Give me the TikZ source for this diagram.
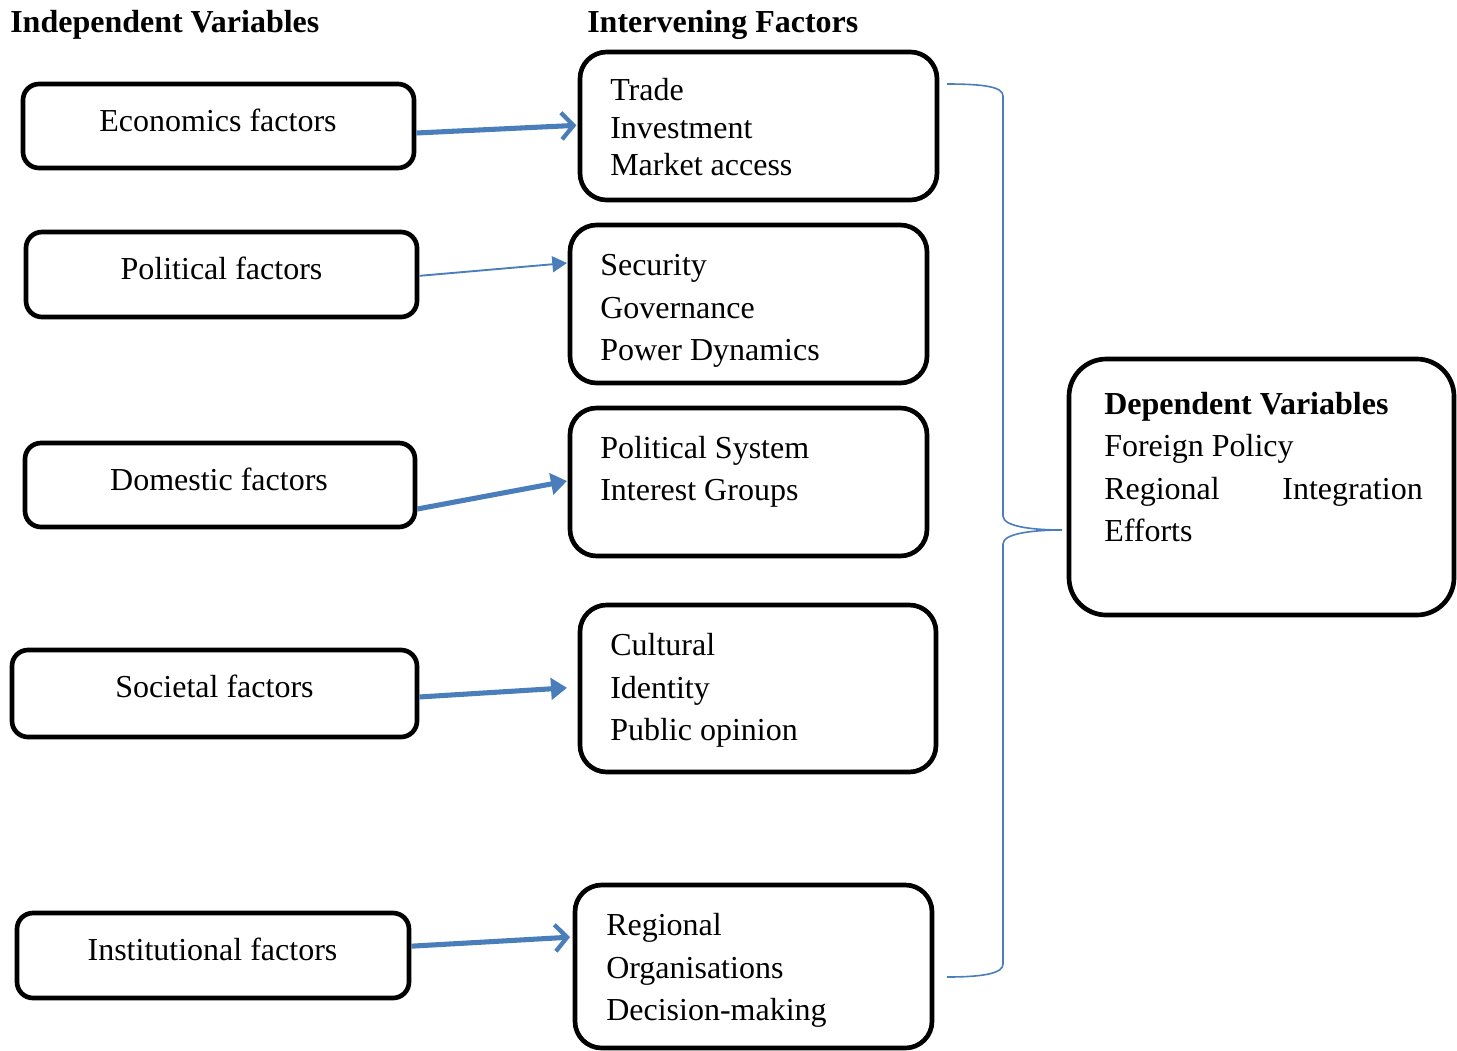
\documentclass[tikz,border=0pt]{standalone}
\usepackage{fontspec}
\setmainfont{Liberation Serif}
\usetikzlibrary{arrows.meta,fit}
\definecolor{arrowblue}{RGB}{74,126,187}
\begin{document}
\begin{tikzpicture}[x=0.75pt,y=-0.75pt,
  every node/.style={font=\fontsize{24pt}{28pt}\selectfont},
  boxsmall/.style={draw=black,line width=3.5pt,rounded corners=12pt,inner sep=0pt},
  boxmid/.style={draw=black,line width=3.5pt,rounded corners=20pt,inner sep=0pt},
  boxbig/.style={draw=black,line width=3.5pt,rounded corners=28pt,inner sep=0pt},
  txt/.style={inner sep=0pt,anchor=base west},
  ctxt/.style={inner sep=0pt,anchor=base},
  head/.style={inner sep=0pt,anchor=base west,font=\fontsize{24pt}{28pt}\selectfont\bfseries},
  thickarrow/.style={draw=arrowblue,line width=3.8pt},
  openhead/.style={-{Straight Barb[length=9pt,width=20pt,line width=3.2pt]}},
  fillhead/.style={-{Triangle[length=12pt,width=16pt]}},
  bracestyle/.style={draw=arrowblue,line width=1.2pt}
]
\useasboundingbox (0,0) rectangle (1457,1050);

% headings
\node[head] (h1) at (10,32) {Independent Variables};
\node[head] (h2) at (587,32) {Intervening Factors};

% left boxes
\node[boxsmall,fit={(23,84) (414,168)}] (econ) {};
\node[ctxt] (econt) at (218,131) {Economics factors};
\node[boxsmall,fit={(26,232) (417,317)}] (pol) {};
\node[ctxt] (polt) at (221.5,279) {Political factors};
\node[boxsmall,fit={(25,443) (415,527)}] (dom) {};
\node[ctxt] (domt) at (219,490) {Domestic factors};
\node[boxsmall,fit={(12,650) (417,737)}] (soc) {};
\node[ctxt] (soct) at (214.5,697) {Societal factors};
\node[boxsmall,fit={(17,913) (409,998)}] (inst) {};
\node[ctxt] (instt) at (212.5,960) {Institutional factors};

% middle boxes
\node[boxmid,fit={(580,52) (937,200)}] (trade) {};
\node[txt] (t1) at (610,100) {Trade};
\node[txt] (t2) at (610,138) {Investment};
\node[txt] (t3) at (610,175) {Market access};

\node[boxmid,fit={(570,225) (927,383)}] (sec) {};
\node[txt] (s1) at (600,275) {Security};
\node[txt] (s2) at (600,318) {Governance};
\node[txt] (s3) at (600,360) {Power Dynamics};

\node[boxmid,fit={(570,408) (927,556)}] (psys) {};
\node[txt] (p1) at (600,458) {Political System};
\node[txt] (p2) at (600,500) {Interest Groups};

\node[boxmid,fit={(580,605) (936,772)}] (cult) {};
\node[txt] (c1) at (610,655) {Cultural};
\node[txt] (c2) at (610,698) {Identity};
\node[txt] (c3) at (610,740) {Public opinion};

\node[boxmid,fit={(575,885) (932,1048)}] (reg) {};
\node[txt] (r1) at (606,935) {Regional};
\node[txt] (r2) at (606,978) {Organisations};
\node[txt] (r3) at (606,1020) {Decision-making};

% dependent box
\node[boxbig,fit={(1069,359) (1454,615)}] (dep) {};
\node[txt,font=\fontsize{24pt}{28pt}\selectfont\bfseries] (d1) at (1104,414) {Dependent Variables};
\node[txt] (d2) at (1104,456) {Foreign Policy};
\node[txt] (d3) at (1104,499) {Regional};
\node[inner sep=0pt,anchor=base east] (d4) at (1423,499) {Integration};
\node[txt] (d5) at (1104,541) {Efforts};

% arrows
\draw[thickarrow,openhead] ([yshift=-5.25pt]econ.east) -- ([xshift=-1pt,yshift=0.5pt]trade.west);
\draw[draw=arrowblue,line width=1.4pt,-{Triangle[length=11pt,width=12pt]},fill=arrowblue] ([yshift=-1pt]pol.east) -- ([xshift=-0.5pt,yshift=30.75pt]sec.west);
\draw[thickarrow,fillhead,fill=arrowblue] ([yshift=-18pt]dom.east) -- ([xshift=-0.5pt,yshift=0.75pt]psys.west);
\draw[thickarrow,fillhead,fill=arrowblue] ([yshift=-2.6pt]soc.east) -- ([xshift=-8pt,yshift=0.5pt]cult.west);
\draw[thickarrow,openhead] ([yshift=7pt]inst.east) -- ([xshift=-2pt,yshift=22pt]reg.west);

% brace
\coordinate (bt) at (947,84);
\coordinate (bb) at (947,977);
\coordinate (bm) at (1062,530);
\draw[bracestyle] (bt) .. controls (985,84) and (1003,87) .. (1003,96)
  -- (1003,516) .. controls (1003,527) and (1035,530) .. (bm)
  .. controls (1035,530) and (1003,533) .. (1003,544)
  -- (1003,964) .. controls (1003,973) and (985,977) .. (bb);
\end{tikzpicture}
\end{document}
